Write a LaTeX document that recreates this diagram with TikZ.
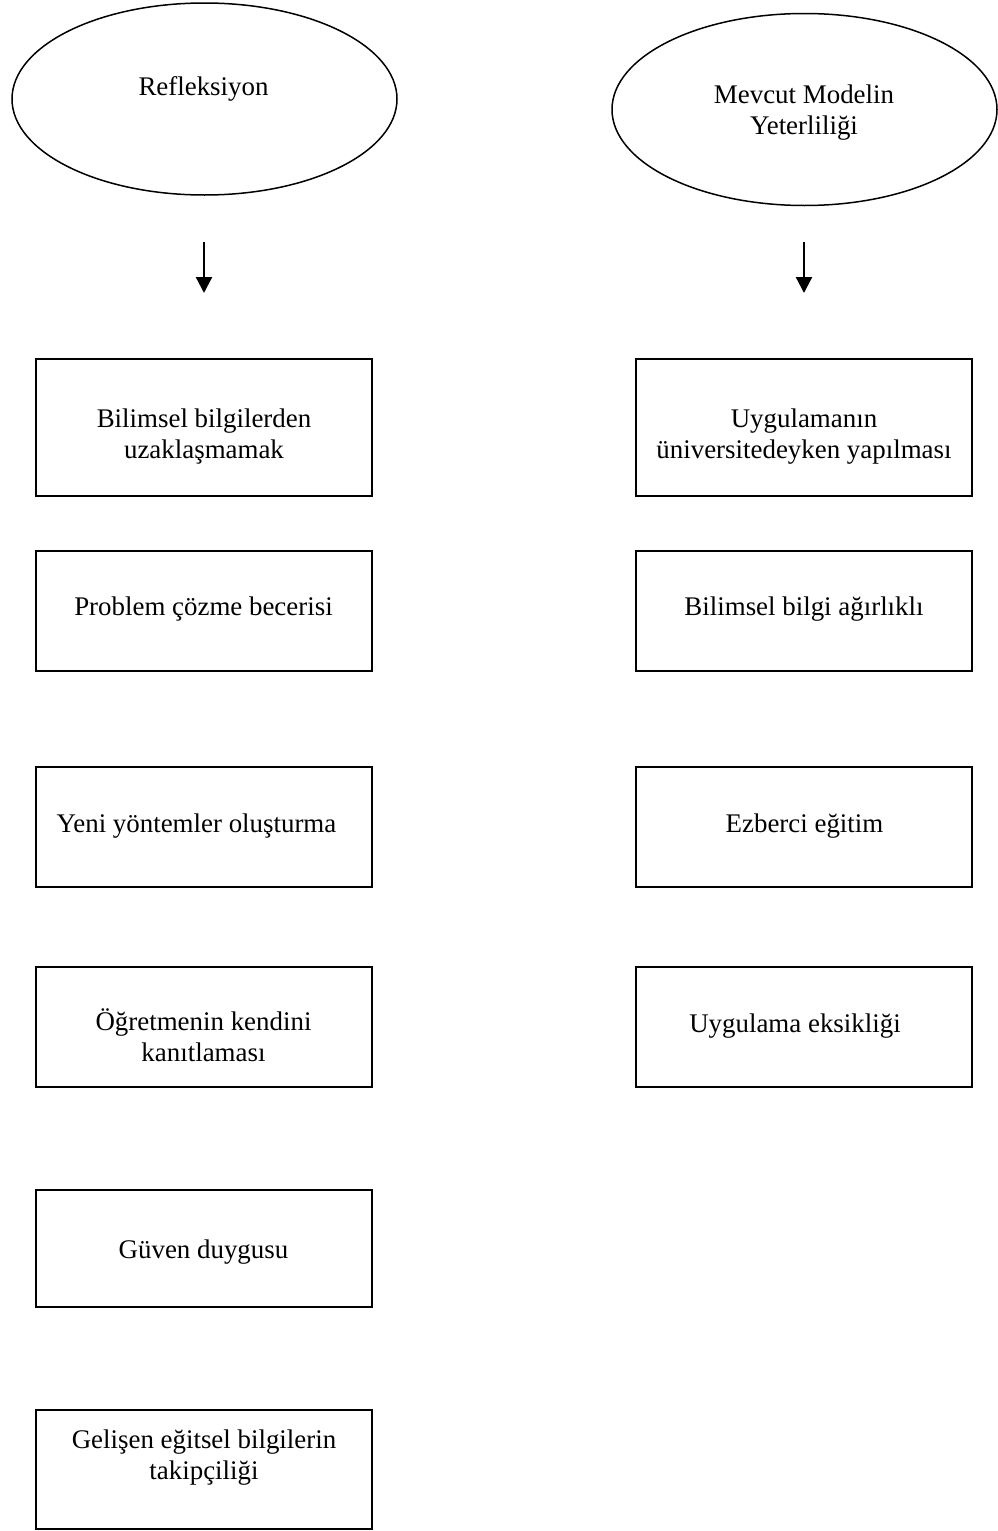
\documentclass[tikz,border=0pt]{standalone}
\usepackage{fontspec}
\setmainfont{Liberation Serif}
\usetikzlibrary{shapes.geometric,arrows.meta}
\tikzset{
  oval/.style={draw, ellipse, line width=1.5pt, inner sep=0pt, minimum width=385pt, minimum height=192pt},
  box/.style={draw, rectangle, line width=1.7pt, inner sep=0pt, minimum width=336pt},
  txt/.style={anchor=base, inner sep=0pt, font=\fontsize{26.9}{31}\selectfont},
  arr/.style={line width=2.3pt, -{Triangle[width=16pt,length=16pt]}}
}
\newcommand{\twoline}[2]{\begin{tabular}[t]{@{}c@{}}#1\\#2\end{tabular}}
\begin{document}
\begin{tikzpicture}[x=1pt,y=-1pt]
\useasboundingbox (0,0) rectangle (997,1531);
% ellipses
\node[oval] (e1) at (204.5,99) {};
\node[oval] (e2) at (804.5,109.5) {};
\node[txt] (e1t) at (203.5,95) {Refleksiyon};
\node[txt] (e2t) at (804,103) {\twoline{Mevcut Modelin}{Yeterliliği}};
% arrows
\coordinate (a1s) at (204,242);
\coordinate (a1e) at (204,293);
\coordinate (a2s) at (804,242);
\coordinate (a2e) at (804,293);
\draw[arr] (a1s) -- (a1e);
\draw[arr] (a2s) -- (a2e);
% left boxes
\node[box, minimum height=137pt] (l1) at (204,427.5) {};
\node[box, minimum height=120pt] (l2) at (204,611) {};
\node[box, minimum height=120pt] (l3) at (204,827) {};
\node[box, minimum height=120pt] (l4) at (204,1027) {};
\node[box, minimum height=117pt] (l5) at (204,1248.5) {};
\node[box, minimum height=119pt] (l6) at (204,1469.5) {};
% right boxes
\node[box, minimum height=137pt] (r1) at (804,427.5) {};
\node[box, minimum height=120pt] (r2) at (804,611) {};
\node[box, minimum height=120pt] (r3) at (804,827) {};
\node[box, minimum height=120pt] (r4) at (804,1027) {};
% texts
\node[txt] (l1t) at (204,427) {\twoline{Bilimsel bilgilerden}{uzaklaşmamak}};
\node[txt] (l2t) at (203.5,615) {Problem çözme becerisi};
\node[txt] (l3t) at (196.5,832) {Yeni yöntemler oluşturma};
\node[txt] (l4t) at (203.5,1030) {\twoline{Öğretmenin kendini}{kanıtlaması}};
\node[txt] (l5t) at (203.5,1258) {Güven duygusu};
\node[txt] (l6t) at (204,1448) {\twoline{Gelişen eğitsel bilgilerin}{takipçiliği}};
\node[txt] (r1t) at (804,427) {\twoline{Uygulamanın}{üniversitedeyken yapılması}};
\node[txt] (r2t) at (804,615) {Bilimsel bilgi ağırlıklı};
\node[txt] (r3t) at (804.5,832) {Ezberci eğitim};
\node[txt] (r4t) at (795,1032) {Uygulama eksikliği};
\end{tikzpicture}
\end{document}
